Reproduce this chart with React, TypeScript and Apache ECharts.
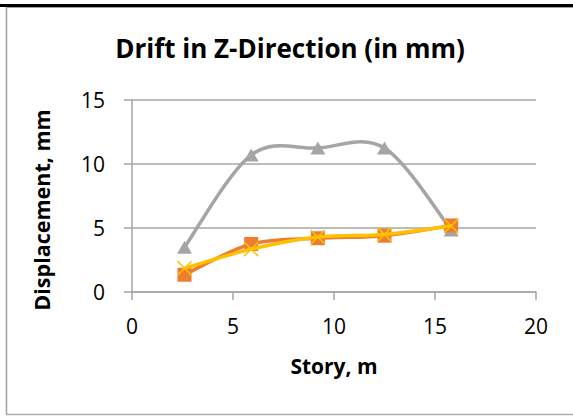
import React, { useEffect, useRef } from "react";
import * as echarts from "echarts";

const storyX: number[] = [2.6, 5.9, 9.2, 12.5, 15.8];
const graySeries: number[] = [3.5, 10.7, 11.25, 11.25, 4.85];
const orangeSeries: number[] = [1.35, 3.75, 4.2, 4.4, 5.2];
const yellowSeries: number[] = [1.85, 3.35, 4.3, 4.5, 5.15];
const xTicks = { min: 0, max: 20, interval: 5 };
const yTicks = { min: 0, max: 15, interval: 5 };

const FONT = "'Open Sans', sans-serif";

const pair = (xs: number[], ys: number[]) => xs.map((x, i) => [x, ys[i]]);

// Excel-like smoothed line (Catmull-Rom through the points), drawn through the axes' scales
function smoothLine(xs: number[], ys: number[], color: string, z: number) {
  return {
    type: "custom",
    coordinateSystem: "cartesian2d",
    data: pair(xs, ys),
    encode: { x: 0, y: 1 },
    z,
    silent: true,
    renderItem: (params: any, api: any) => {
      const i = params.dataIndex;
      const n = xs.length;
      if (i >= n - 1) return null;
      const P = (k: number) => {
        const kk = Math.max(0, Math.min(n - 1, k));
        return api.coord([xs[kk], ys[kk]]);
      };
      const p0 = P(i - 1), p1 = P(i), p2 = P(i + 1), p3 = P(i + 2);
      const t = 1 / 6;
      const c1 = [p1[0] + (p2[0] - p0[0]) * t, p1[1] + (p2[1] - p0[1]) * t];
      const c2 = [p2[0] - (p3[0] - p1[0]) * t, p2[1] - (p3[1] - p1[1]) * t];
      const d = `M${p1[0]},${p1[1]} C${c1[0]},${c1[1]} ${c2[0]},${c2[1]} ${p2[0]},${p2[1]}`;
      return {
        type: "path",
        shape: { pathData: d },
        style: { fill: "none", stroke: color, lineWidth: 3.5, lineCap: "round", lineJoin: "round" },
      };
    },
  };
}

export default function App() {
  const ref = useRef<HTMLDivElement>(null);
  useEffect(() => {
    if (!ref.current) return;
    const chart = echarts.init(ref.current, undefined, { renderer: "svg" });
    chart.setOption({
      animation: false,
      backgroundColor: "#ffffff",
      title: {
        text: "Drift in Z-Direction (in mm)",
        left: 285,
        top: 30,
        textAlign: "center",
        textStyle: { fontFamily: FONT, fontWeight: "bold", fontSize: 26, color: "#000" },
      },
      graphic: [
        { type: "rect", shape: { x: 0, y: 4, width: 573, height: 3 }, style: { fill: "#000" }, silent: true },
        { type: "line", shape: { x1: 6, y1: 7.5, x2: 573, y2: 7.5 }, style: { stroke: "#a0a0a0", lineWidth: 1 }, silent: true },
        { type: "line", shape: { x1: 6.5, y1: 7, x2: 6.5, y2: 415 }, style: { stroke: "#a0a0a0", lineWidth: 1.5 }, silent: true },
        { type: "line", shape: { x1: 6, y1: 414.5, x2: 573, y2: 414.5 }, style: { stroke: "#b0b0b0", lineWidth: 1.5 }, silent: true },
        {
          type: "text",
          x: 41,
          y: 210,
          rotation: Math.PI / 2,
          silent: true,
          style: {
            text: "Displacement, mm",
            fontFamily: FONT,
            fontWeight: "bold",
            fontSize: 21.5,
            fill: "#000",
            align: "center",
            verticalAlign: "middle",
          },
        },
      ],
      grid: { left: 132, right: 37, top: 100, bottom: 124, containLabel: false },
      xAxis: {
        type: "value",
        min: xTicks.min,
        max: xTicks.max,
        interval: xTicks.interval,
        name: "Story, m",
        nameLocation: "middle",
        nameGap: 63,
        nameTextStyle: { fontFamily: FONT, fontWeight: "bold", fontSize: 21, color: "#000" },
        axisLine: { show: true, lineStyle: { color: "#a6a6a6", width: 1.5 } },
        axisTick: { show: true, length: 8, lineStyle: { color: "#a6a6a6", width: 1.5 } },
        axisLabel: { fontFamily: FONT, fontSize: 21, color: "#000", margin: 23 },
        splitLine: { show: false },
      },
      yAxis: {
        type: "value",
        min: yTicks.min,
        max: yTicks.max,
        interval: yTicks.interval,
        axisLine: { show: true, lineStyle: { color: "#a6a6a6", width: 1.5 } },
        axisTick: { show: true, length: 8, lineStyle: { color: "#a6a6a6", width: 1.5 } },
        axisLabel: { fontFamily: FONT, fontSize: 21, color: "#000", margin: 27 },
        splitLine: { show: true, lineStyle: { color: "#a6a6a6", width: 1.5 } },
      },
      series: [
        smoothLine(storyX, graySeries, "#a5a5a5", 2),
        {
          type: "scatter",
          data: pair(storyX, graySeries),
          symbol: "triangle",
          symbolSize: [15, 13],
          itemStyle: { color: "#a5a5a5", opacity: 1 },
          z: 3,
        },
        smoothLine(storyX, orangeSeries, "#ed7d31", 4),
        {
          type: "scatter",
          data: pair(storyX, orangeSeries),
          symbol: "rect",
          symbolSize: 14,
          itemStyle: { color: "#ed7d31", opacity: 1 },
          z: 5,
        },
        smoothLine(storyX, yellowSeries, "#ffc000", 6),
        {
          type: "scatter",
          data: pair(storyX, yellowSeries),
          symbol: "path://M0,0L10,10M10,0L0,10",
          symbolSize: 14,
          itemStyle: { color: "#ffc000", borderColor: "#ffc000", borderWidth: 1.5, opacity: 1 },
          z: 7,
        },
      ],
    });
    return () => chart.dispose();
  }, []);
  return (
    <div
      ref={ref}
      style={{ position: "fixed", left: 0, top: 0, width: 573, height: 416 }}
    />
  );
}
